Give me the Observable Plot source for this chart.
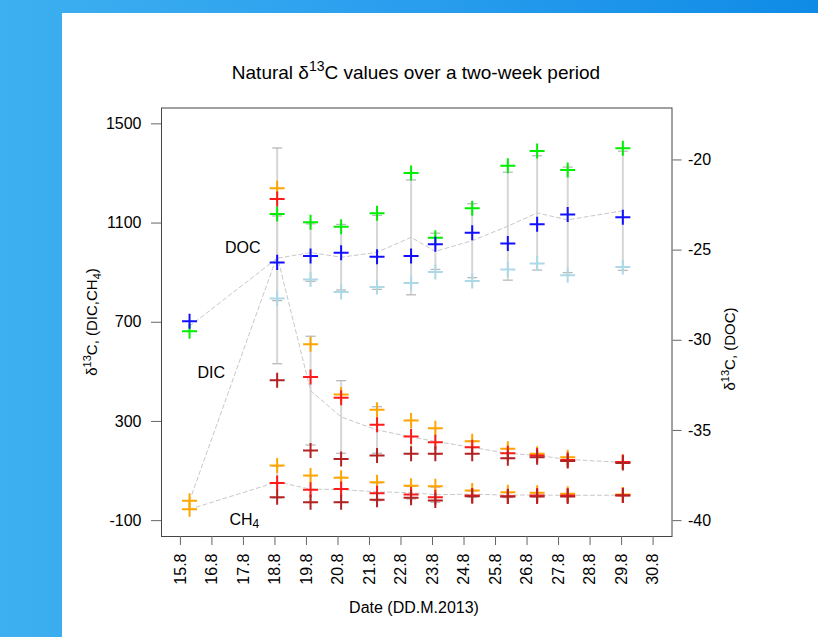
<!DOCTYPE html>
<html>
<head>
<meta charset="utf-8">
<script src="https://cdn.jsdelivr.net/npm/d3@7"></script>
<script src="https://cdn.jsdelivr.net/npm/@observablehq/plot@0.6"></script>
<style>
  html, body { margin: 0; padding: 0; width: 818px; height: 637px; overflow: hidden; }
  body { background: linear-gradient(90deg, #3db0f0 0%, #2a9eee 50%, #0f8be6 100%); position: relative; font-family: "Liberation Sans", Arial, sans-serif; }
  #panel { position: absolute; left: 62px; top: 13px; right: 0; bottom: 0; background: #ffffff; }
  #chart { position: absolute; left: 0; top: 0; }
</style>
</head>
<body>
<div id="panel"></div>
<div id="chart"></div>
<script>
// ---- data (sampling dates as day-of-August, fractional) ----
const dates = [15.29, 18.07, 19.13, 20.10, 21.24, 22.32, 23.09, 24.26, 25.39, 26.32, 27.29, 29.04];

// DOC replicates (right axis, per mil)
const docGreen     = [-29.50, -23.00, -23.46, -23.71, -22.96, -20.72, -24.32, -22.68, -20.32, -19.50, -20.56, -19.35];
const docBlue      = [-28.94, -25.68, -25.32, -25.15, -25.37, -25.33, -24.67, -24.04, -24.63, -23.57, -23.02, -23.18];
const docLightblue = [null,   -27.68, -26.63, -27.32, -27.04, -26.83, -26.21, -26.71, -26.07, -25.74, -26.39, -25.93];

// DIC replicates (left axis)
const dicOrange  = [-20, 1240, 611, 409, 347, 304, 273, 220, 190, 170, 156, 136];
const dicRed     = [null, 1197, 479, 396, 287, 239, 216, 196, 172, 163, 145, 136];
const dicDarkred = [null, 466, 183, 149, 163, 170, 170, 170, 152, 156, 140, 132];

// CH4 replicates (left axis)
const ch4Orange  = [-54, 122, 82, 73, 55, 41, 39, 21, 14, 12, 8, 5];
const ch4Red     = [null, 52, 25, 28, 10, 5, -6, 1, -2, 1, 1, 2];
const ch4Darkred = [null, -6, -26, -26, -16, -8, -19, -2, -3, -3, -3, 1];

// ticks
const xTicks = [15, 16, 17, 18, 19, 20, 21, 22, 23, 24, 25, 26, 27, 28, 29, 30];
const leftTicks = [-100, 300, 700, 1100, 1500];
const rightTicks = [-40, -35, -30, -25, -20];

// in-plot labels
const groupLabels = [
  {date: 16.98, value: 999, text: "DOC"},
  {date: 15.98, value: 496, text: "DIC"}
];
const ch4Label = [{date: 16.555, value: -96}];

// ---- secondary axis mapping: DOC ylim [-40,-18] onto left ylim [-100,1500]
const toL = v => -100 + (v + 40) * 1600 / 22;
const fromL = L => (L + 100) * 22 / 1600 - 40;

const groups = [
  {name: "DOC", conv: toL, series: [
    {color: "#00ee00", values: docGreen},
    {color: "#1010ff", values: docBlue},
    {color: "#add8e6", values: docLightblue}]},
  {name: "DIC", conv: v => v, series: [
    {color: "#ffa500", values: dicOrange},
    {color: "#ff1a1a", values: dicRed},
    {color: "#b22222", values: dicDarkred}]},
  {name: "CH4", conv: v => v, series: [
    {color: "#ffa500", values: ch4Orange},
    {color: "#ff1a1a", values: ch4Red},
    {color: "#b22222", values: ch4Darkred}]}
];

const points = [];
const stats = [];
for (const g of groups) {
  for (const s of g.series) {
    s.values.forEach((v, i) => {
      if (v != null) points.push({group: g.name, date: dates[i], value: g.conv(v), color: s.color});
    });
  }
  dates.forEach((d, i) => {
    const vals = g.series.map(s => s.values[i]).filter(v => v != null).map(g.conv);
    const mean = d3.mean(vals);
    const sd = vals.length >= 3 ? d3.deviation(vals) : null;
    stats.push({group: g.name, date: d, mean, lo: sd == null ? null : mean - sd, hi: sd == null ? null : mean + sd});
  });
}
const bars = stats.filter(d => d.lo != null);

const capSymbol = {
  draw(context, size) {
    const r = Math.sqrt(size / Math.PI);
    context.moveTo(-r, 0);
    context.lineTo(r, 0);
  }
};

const chart = Plot.plot({
  width: 818,
  height: 637,
  marginLeft: 161,
  marginRight: 146.5,
  marginTop: 107.5,
  marginBottom: 101,
  style: {background: "transparent", fontFamily: "'Liberation Sans', Arial, sans-serif", fontSize: "16px", color: "#000", overflow: "visible"},
  x: {domain: [14.4, 30.6]},
  y: {domain: [-164, 1564]},
  color: {type: "identity"},
  marks: [
    Plot.ruleX(bars, {x: "date", y1: "lo", y2: "hi", stroke: "#d6d6d6", strokeWidth: 2}),
    Plot.dot(bars, {x: "date", y: "lo", symbol: capSymbol, r: 5, fill: "none", stroke: "#b9b9b9", strokeWidth: 1.3}),
    Plot.dot(bars, {x: "date", y: "hi", symbol: capSymbol, r: 5, fill: "none", stroke: "#b9b9b9", strokeWidth: 1.3}),
    Plot.line(stats, {x: "date", y: "mean", z: "group", stroke: "#c8c8c8", strokeWidth: 1, strokeDasharray: "4,3"}),
    Plot.dot(points, {x: "date", y: "value", symbol: "plus", r: 4.9, stroke: "color", strokeWidth: 2}),
    Plot.text(groupLabels, {x: "date", y: "value", text: "text", fontSize: 16, fill: "#000"}),
    Plot.text(ch4Label, {x: "date", y: "value", text: () => "CH", textAnchor: "start", fontSize: 16, fill: "#000"}),
    Plot.text(ch4Label, {x: "date", y: "value", text: () => "4", textAnchor: "start", dx: 23, dy: 5, fontSize: 12, fill: "#000"}),
    Plot.frame({stroke: "#444", strokeWidth: 1}),
    Plot.axisY({anchor: "left", ticks: leftTicks, tickFormat: d => String(d), tickSize: 10, tickPadding: 10, label: null, stroke: "#666", fontSize: 16}),
    Plot.axisY({anchor: "right", ticks: rightTicks.map(toL), tickFormat: d => String(Math.round(fromL(d))), tickSize: 9, tickPadding: 7, label: null, stroke: "#666", fontSize: 16}),
    Plot.axisX({ticks: xTicks, tickFormat: d => `${d}.8`, tickRotate: -90, tickSize: 9, tickPadding: 8, label: null, stroke: "#666", fontSize: 16})
  ]
});
document.getElementById("chart").appendChild(chart);

// titles with super/subscripts
const svg = d3.select(chart);
const font = "'Liberation Sans', Arial, sans-serif";
const title = svg.append("text").attr("x", 416).attr("y", 79).attr("text-anchor", "middle")
  .attr("font-family", font).attr("font-size", 19).attr("fill", "#000");
title.append("tspan").text("Natural δ");
title.append("tspan").attr("dy", -8).attr("font-size", 14).text("13");
title.append("tspan").attr("dy", 8).text("C values over a two-week period");

svg.append("text").attr("x", 414).attr("y", 613).attr("text-anchor", "middle")
  .attr("font-family", font).attr("font-size", 16).attr("fill", "#000").text("Date (DD.M.2013)");

const yl = svg.append("text").attr("transform", "translate(97,322) rotate(-90)").attr("text-anchor", "middle")
  .attr("font-family", font).attr("font-size", 15).attr("fill", "#000");
yl.append("tspan").text("δ");
yl.append("tspan").attr("dy", -6).attr("font-size", 11).text("13");
yl.append("tspan").attr("dy", 6).text("C, (DIC,CH");
yl.append("tspan").attr("dy", 4).attr("font-size", 11).text("4");
yl.append("tspan").attr("dy", -4).text(")");

const yr = svg.append("text").attr("transform", "translate(735,349) rotate(-90)").attr("text-anchor", "middle")
  .attr("font-family", font).attr("font-size", 15).attr("fill", "#000");
yr.append("tspan").text("δ");
yr.append("tspan").attr("dy", -6).attr("font-size", 11).text("13");
yr.append("tspan").attr("dy", 6).text("C, (DOC)");
</script>
</body>
</html>
